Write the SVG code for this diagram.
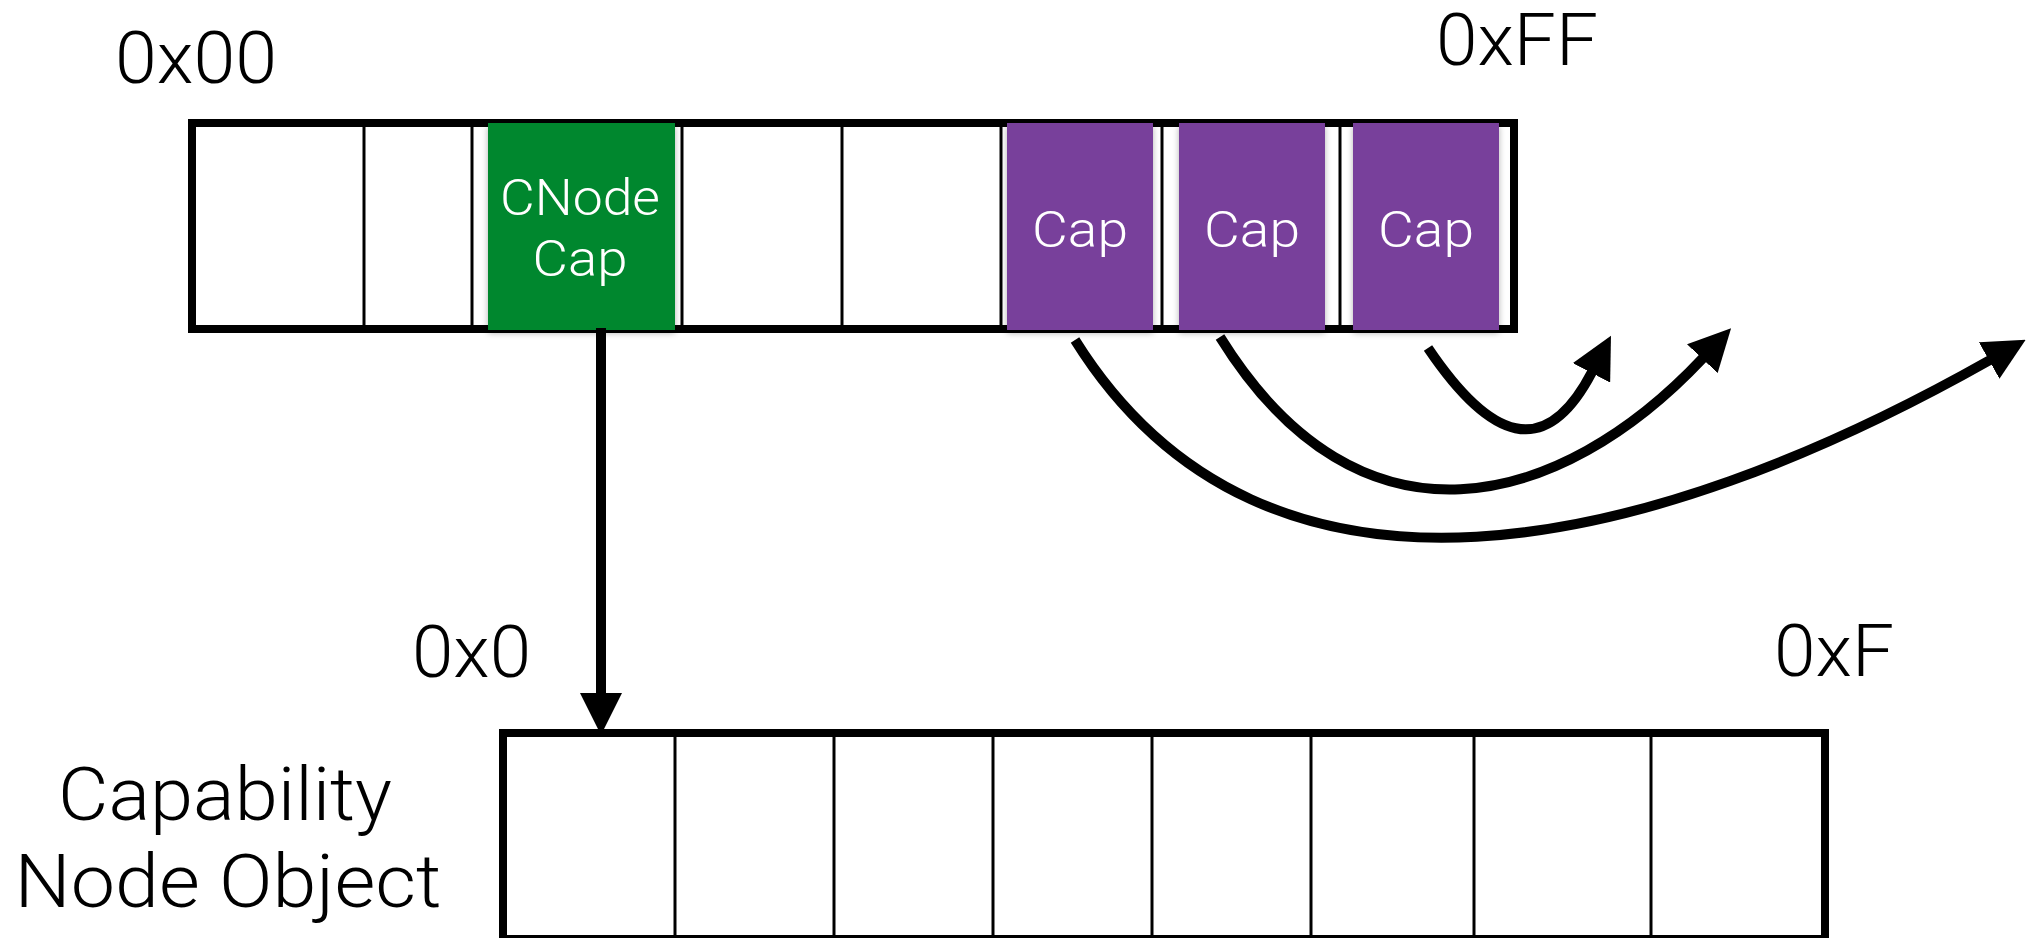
<svg xmlns="http://www.w3.org/2000/svg" width="2031" height="938" viewBox="0 0 2031 938">
  <style>
    .frame { fill: #ffffff; stroke: #000000; stroke-width: 8; }
    .div { stroke: #000000; stroke-width: 3; }
    .hex { font-family: Roboto, "Liberation Sans", sans-serif; font-weight: 300; font-size: 72px; fill: #000000; }
    .caption { font-family: Roboto, "Liberation Sans", sans-serif; font-weight: 300; font-size: 74px; fill: #000000; text-anchor: middle; }
    .slot { font-family: Roboto, "Liberation Sans", sans-serif; font-weight: 300; font-size: 50px; fill: #ffffff; text-anchor: middle; }
    .cnode { fill: #03872d; }
    .cap { fill: #783f9b; }
    .link { fill: none; stroke: #000000; stroke-width: 10; }
  </style>
  <defs>
    <marker id="head" markerUnits="userSpaceOnUse" viewBox="0 0 42 42" refX="1" refY="21" markerWidth="42" markerHeight="42" orient="auto">
      <path d="M0,0 L42,21 L0,42 Z" fill="#000000"/>
    </marker>
    <filter id="shadow" x="-10%" y="-10%" width="120%" height="125%">
      <feDropShadow dx="0" dy="3" stdDeviation="3" flood-color="#000000" flood-opacity="0.3"/>
    </filter>
  </defs>

  <!-- address labels -->
  <text class="hex" x="115" y="83" textLength="162" lengthAdjust="spacingAndGlyphs">0x00</text>
  <text class="hex" x="1436" y="65" textLength="162" lengthAdjust="spacingAndGlyphs">0xFF</text>
  <text class="hex" x="412" y="677" textLength="119" lengthAdjust="spacingAndGlyphs">0x0</text>
  <text class="hex" x="1774" y="676" textLength="120" lengthAdjust="spacingAndGlyphs">0xF</text>

  <!-- CNode slot array -->
  <g id="cnode-slots">
    <rect class="frame" x="192" y="123" width="1322" height="206"/>
    <line class="div" x1="364" y1="123" x2="364" y2="329"/>
    <line class="div" x1="472" y1="123" x2="472" y2="329"/>
    <line class="div" x1="682" y1="123" x2="682" y2="329"/>
    <line class="div" x1="842" y1="123" x2="842" y2="329"/>
    <line class="div" x1="1001" y1="123" x2="1001" y2="329"/>
    <line class="div" x1="1162" y1="123" x2="1162" y2="329"/>
    <line class="div" x1="1340" y1="123" x2="1340" y2="329"/>
  </g>

  <g id="cnode-cap" filter="url(#shadow)">
    <rect class="cnode" x="488" y="123" width="187" height="207"/>
    <text class="slot" x="580" y="215" textLength="160" lengthAdjust="spacingAndGlyphs">CNode</text>
    <text class="slot" x="580" y="276" textLength="95" lengthAdjust="spacingAndGlyphs">Cap</text>
  </g>

  <g id="cap-1" filter="url(#shadow)">
    <rect class="cap" x="1007" y="123" width="146" height="207"/>
    <text class="slot" x="1080" y="247" textLength="96" lengthAdjust="spacingAndGlyphs">Cap</text>
  </g>
  <g id="cap-2" filter="url(#shadow)">
    <rect class="cap" x="1179" y="123" width="146" height="207"/>
    <text class="slot" x="1252" y="247" textLength="96" lengthAdjust="spacingAndGlyphs">Cap</text>
  </g>
  <g id="cap-3" filter="url(#shadow)">
    <rect class="cap" x="1353" y="123" width="146" height="207"/>
    <text class="slot" x="1426" y="247" textLength="96" lengthAdjust="spacingAndGlyphs">Cap</text>
  </g>

  <!-- capability node object -->
  <g id="cnode-object">
    <rect class="frame" x="503" y="733" width="1322" height="206"/>
    <line class="div" x1="675" y1="733" x2="675" y2="938"/>
    <line class="div" x1="834" y1="733" x2="834" y2="938"/>
    <line class="div" x1="993" y1="733" x2="993" y2="938"/>
    <line class="div" x1="1152" y1="733" x2="1152" y2="938"/>
    <line class="div" x1="1311" y1="733" x2="1311" y2="938"/>
    <line class="div" x1="1474" y1="733" x2="1474" y2="938"/>
    <line class="div" x1="1651" y1="733" x2="1651" y2="938"/>
  </g>
  <g id="cnode-object-label">
    <text class="caption" x="225" y="820" textLength="334" lengthAdjust="spacingAndGlyphs">Capability</text>
    <text class="caption" x="228" y="907" textLength="427" lengthAdjust="spacingAndGlyphs">Node Object</text>
  </g>

  <!-- connectors -->
  <g id="connectors">
    <path class="link" d="M601,328 L601,694" marker-end="url(#head)"/>
    <path class="link" d="M1075,340 C1266,646 1650,552 1990,360" marker-end="url(#head)"/>
    <path class="link" d="M1220,337 C1360,563 1560,510 1703,358" marker-end="url(#head)"/>
    <path class="link" d="M1428,348 C1490,440 1545,462 1592,372" marker-end="url(#head)"/>
  </g>
</svg>
